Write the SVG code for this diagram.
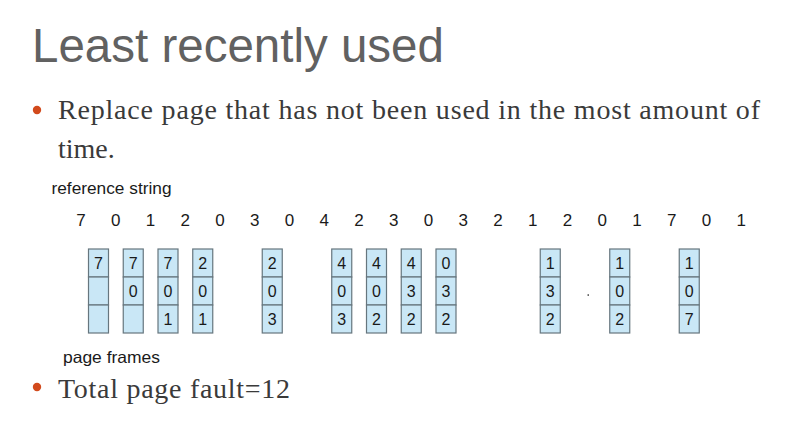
<svg xmlns="http://www.w3.org/2000/svg" width="795" height="439" viewBox="0 0 795 439">
<style>
.title{font-family:"Liberation Sans",Arial,sans-serif;font-size:47.5px;fill:#616161}
.bul{font-family:"Liberation Serif","Times New Roman",serif;font-size:28px;fill:#3a3a3a}
.dot{fill:#d24a1c}
.lab{font-family:"Liberation Sans",Arial,sans-serif;font-size:16.5px;fill:#1a1a1a}
.ref{font-family:"Liberation Sans",Arial,sans-serif;font-size:17px;fill:#1a1a1a;text-anchor:middle}
.cell{fill:#c9e7f6;stroke:#66767e;stroke-width:1.2}
.val{font-family:"Liberation Sans",Arial,sans-serif;font-size:16px;fill:#1a1a1a;text-anchor:middle}
</style>
<rect width="795" height="439" fill="#ffffff"/>
<text class="title" x="32" y="62">Least recently used</text>
<circle class="dot" cx="37" cy="110" r="4.2"/>
<text class="bul" x="58" y="119" textLength="702" lengthAdjust="spacing">Replace page that has not been used in the most amount of</text>
<text class="bul" x="58" y="158">time.</text>
<text class="lab" x="51.5" y="194" textLength="120" lengthAdjust="spacingAndGlyphs">reference string</text>
<g id="refstring">
<text class="ref" x="81" y="226">7</text>
<text class="ref" x="115.75" y="226">0</text>
<text class="ref" x="150.5" y="226">1</text>
<text class="ref" x="185.25" y="226">2</text>
<text class="ref" x="220" y="226">0</text>
<text class="ref" x="254.75" y="226">3</text>
<text class="ref" x="289.5" y="226">0</text>
<text class="ref" x="324.25" y="226">4</text>
<text class="ref" x="359" y="226">2</text>
<text class="ref" x="393.75" y="226">3</text>
<text class="ref" x="428.5" y="226">0</text>
<text class="ref" x="463.25" y="226">3</text>
<text class="ref" x="498" y="226">2</text>
<text class="ref" x="532.75" y="226">1</text>
<text class="ref" x="567.5" y="226">2</text>
<text class="ref" x="602.25" y="226">0</text>
<text class="ref" x="637" y="226">1</text>
<text class="ref" x="671.75" y="226">7</text>
<text class="ref" x="706.5" y="226">0</text>
<text class="ref" x="741.25" y="226">1</text>
</g>
<defs>
<g id="frame">
<rect class="cell" x="0" y="0" width="20" height="28"/>
<rect class="cell" x="0" y="28" width="20" height="28"/>
<rect class="cell" x="0" y="56" width="20" height="28"/>
</g>
</defs>
<g id="f1" transform="translate(88.5,249)"><use href="#frame"/><text class="val" x="10" y="20">7</text></g>
<g id="f2" transform="translate(123.25,249)"><use href="#frame"/><text class="val" x="10" y="20">7</text><text class="val" x="10" y="48">0</text></g>
<g id="f3" transform="translate(158,249)"><use href="#frame"/><text class="val" x="10" y="20">7</text><text class="val" x="10" y="48">0</text><text class="val" x="10" y="76">1</text></g>
<g id="f4" transform="translate(192.75,249)"><use href="#frame"/><text class="val" x="10" y="20">2</text><text class="val" x="10" y="48">0</text><text class="val" x="10" y="76">1</text></g>
<g id="f5" transform="translate(262.25,249)"><use href="#frame"/><text class="val" x="10" y="20">2</text><text class="val" x="10" y="48">0</text><text class="val" x="10" y="76">3</text></g>
<g id="f6" transform="translate(331.75,249)"><use href="#frame"/><text class="val" x="10" y="20">4</text><text class="val" x="10" y="48">0</text><text class="val" x="10" y="76">3</text></g>
<g id="f7" transform="translate(366.5,249)"><use href="#frame"/><text class="val" x="10" y="20">4</text><text class="val" x="10" y="48">0</text><text class="val" x="10" y="76">2</text></g>
<g id="f8" transform="translate(401.25,249)"><use href="#frame"/><text class="val" x="10" y="20">4</text><text class="val" x="10" y="48">3</text><text class="val" x="10" y="76">2</text></g>
<g id="f9" transform="translate(436,249)"><use href="#frame"/><text class="val" x="10" y="20">0</text><text class="val" x="10" y="48">3</text><text class="val" x="10" y="76">2</text></g>
<g id="f10" transform="translate(540.25,249)"><use href="#frame"/><text class="val" x="10" y="20">1</text><text class="val" x="10" y="48">3</text><text class="val" x="10" y="76">2</text></g>
<g id="f11" transform="translate(609.75,249)"><use href="#frame"/><text class="val" x="10" y="20">1</text><text class="val" x="10" y="48">0</text><text class="val" x="10" y="76">2</text></g>
<g id="f12" transform="translate(679.25,249)"><use href="#frame"/><text class="val" x="10" y="20">1</text><text class="val" x="10" y="48">0</text><text class="val" x="10" y="76">7</text></g>
<rect x="587.5" y="294.3" width="1.5" height="1.5" fill="#444"/>
<text class="lab" x="63" y="363" textLength="97" lengthAdjust="spacingAndGlyphs">page frames</text>
<circle class="dot" cx="37" cy="387" r="4.2"/>
<text class="bul" x="58" y="398" textLength="232" lengthAdjust="spacing">Total page fault=12</text>
</svg>
